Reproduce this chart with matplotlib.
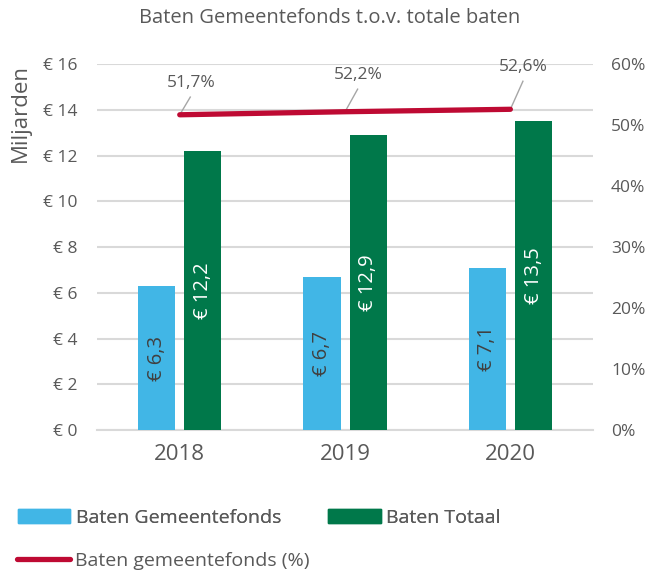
import matplotlib
matplotlib.use("Agg")
import matplotlib.pyplot as plt
from matplotlib.patches import Patch
from matplotlib.lines import Line2D
import numpy as np

years = ["2018", "2019", "2020"]
gemeentefonds = [6.3, 6.7, 7.1]
totaal = [12.2, 12.9, 13.5]
pct = [51.7, 52.2, 52.6]
pct_labels = ["51,7%", "52,2%", "52,6%"]
y_ticks = [0, 2, 4, 6, 8, 10, 12, 14, 16]
y2_ticks = [0, 10, 20, 30, 40, 50, 60]

BLUE = "#41B6E6"
GREEN = "#00784A"
RED = "#BE0A33"
GRAY = "#595959"
GRID = "#D9D9D9"

plt.rcParams['font.family'] = ['Open Sans', 'DejaVu Sans']

fig = plt.figure(figsize=(6.56, 5.73), dpi=100)
ax = fig.add_axes([0.148, 0.2496, 0.756, 0.6384])
x = np.arange(len(years))
w = 0.225
off = 0.14
ax.bar(x - off, gemeentefonds, w, color=BLUE, zorder=3)
ax.bar(x + off, totaal, w, color=GREEN, zorder=3)
for xi, v in zip(x, gemeentefonds):
    ax.text(xi - off, v / 2, "€ " + f"{v:.1f}".replace(".", ","), rotation=90,
            ha="center", va="center", color="#404040", fontsize=14.5, zorder=4)
for xi, v in zip(x, totaal):
    ax.text(xi + off, v / 2, "€ " + f"{v:.1f}".replace(".", ","), rotation=90,
            ha="center", va="center", color="white", fontsize=14.5, zorder=4)

ax.set_xlim(-0.5, 2.5)
ax.set_ylim(0, 16)
ax.set_yticks(y_ticks)
ax.set_yticklabels([f"€ {t}" for t in y_ticks])
ax.set_xticks(x)
ax.set_xticklabels(years)
ax.tick_params(axis="x", length=0, labelsize=16, labelcolor=GRAY, pad=10)
ax.tick_params(axis="y", length=0, labelsize=12.5, labelcolor=GRAY, pad=14)
ax.grid(axis="y", color=GRID, linewidth=1.5, zorder=0)
for s in ["top", "right", "left"]:
    ax.spines[s].set_visible(False)
ax.spines["bottom"].set_color(GRID)
ax.spines["bottom"].set_linewidth(1.5)

ax2 = ax.twinx()
ax2.set_ylim(0, 60)
ax2.set_yticks(y2_ticks)
ax2.set_yticklabels([f"{t}%" for t in y2_ticks])
ax2.tick_params(axis="y", length=0, labelsize=12.5, labelcolor=GRAY, pad=13)
for s in ax2.spines.values():
    s.set_visible(False)

# label offsets (dx in category units, dy in percentage points) and leader top height
label_dx = [0.067, 0.08, 0.08]
label_dy = [5.2, 6.0, 6.9]
leader_dy = [2.9, 3.7, 4.6]
for xi, p, lab, dx, dy, ldy in zip(x, pct, pct_labels, label_dx, label_dy, leader_dy):
    ax2.plot([xi, xi + dx * 0.95], [p, p + ldy], color="#A6A6A6", lw=1, zorder=4)
    ax2.text(xi + dx, p + dy, lab, ha="center", va="center", fontsize=12.5, color=GRAY, zorder=6)
ax2.plot(x, pct, color=RED, linewidth=3.8, solid_capstyle="round", zorder=5)

fig.text(0.503, 0.968, "Baten Gemeentefonds t.o.v. totale baten", ha="center", va="center",
         fontsize=14.5, color=GRAY)
fig.text(0.031, 0.803, "Miljarden", rotation=90, ha="center", va="center", fontsize=16, color=GRAY)

h1 = [Patch(color=BLUE), Patch(color=GREEN)]
leg1 = fig.legend(h1, ["Baten Gemeentefonds", "Baten Totaal"], loc="center left",
                  bbox_to_anchor=(0.027, 0.096), ncol=2, frameon=False, fontsize=14,
                  labelcolor=GRAY, handlelength=2.7, handleheight=0.7, handletextpad=0.3,
                  columnspacing=2.4, borderaxespad=0, borderpad=0)
leg2 = fig.legend([Line2D([0], [0], color=RED, lw=3.8, solid_capstyle="round")],
                  ["Baten gemeentefonds (%)"], loc="center left",
                  bbox_to_anchor=(0.026, 0.021), frameon=False, fontsize=14,
                  labelcolor=GRAY, handlelength=2.7, handletextpad=0.3,
                  borderaxespad=0, borderpad=0)
fig.add_artist(leg1)

fig.savefig("out.png", dpi=100)
